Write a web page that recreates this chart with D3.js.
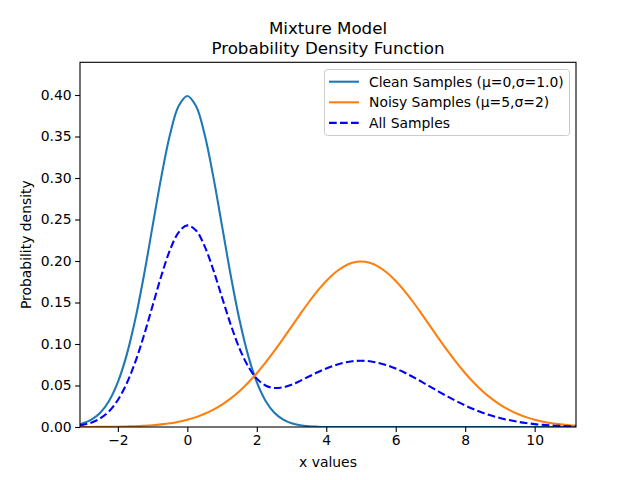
<!DOCTYPE html>
<html>
<head>
<meta charset="utf-8">
<script src="https://cdn.jsdelivr.net/npm/d3@7"></script>
<style>
  body { margin: 0; background: #fff; }
  text { font-family: "DejaVu Sans", sans-serif; fill: #000; }
</style>
</head>
<body>
<div id="chart"></div>
<script>
// x positions the curves were read at
const xValues = [-3.1, -3, -2.75, -2.5, -2.25, -2, -1.75, -1.5, -1.25, -1, -0.75, -0.5, -0.25,
  0, 0.25, 0.5, 0.75, 1, 1.25, 1.5, 1.75, 2, 2.25, 2.5, 2.75, 3, 3.25, 3.5, 3.75,
  4, 4.25, 4.5, 4.75, 5, 5.25, 5.5, 5.75, 6, 6.25, 6.5, 6.75, 7, 7.25, 7.5, 7.75,
  8, 8.25, 8.5, 8.75, 9, 9.25, 9.5, 9.75, 10, 10.25, 10.5, 10.75, 11, 11.2];

const cleanValues = [0.0033, 0.0044, 0.0091, 0.0175, 0.0317, 0.0540, 0.0863, 0.1295, 0.1826, 0.2420, 0.3011, 0.3521, 0.3867,
  0.3989, 0.3867, 0.3521, 0.3011, 0.2420, 0.1826, 0.1295, 0.0863, 0.0540, 0.0317, 0.0175, 0.0091, 0.0044, 0.0020, 0.0009, 0.0004,
  0.0001, 0, 0, 0, 0, 0, 0, 0, 0, 0, 0, 0, 0, 0, 0, 0,
  0, 0, 0, 0, 0, 0, 0, 0, 0, 0, 0, 0, 0, 0];

const noisyValues = [0.0001, 0.0001, 0.0001, 0.0002, 0.0003, 0.0004, 0.0007, 0.0010, 0.0015, 0.0022, 0.0032, 0.0045, 0.0064,
  0.0088, 0.0119, 0.0159, 0.0209, 0.0270, 0.0344, 0.0431, 0.0533, 0.0648, 0.0775, 0.0913, 0.1059, 0.1210, 0.1360, 0.1506, 0.1641,
  0.1760, 0.1859, 0.1933, 0.1979, 0.1995, 0.1979, 0.1933, 0.1859, 0.1760, 0.1641, 0.1506, 0.1360, 0.1210, 0.1059, 0.0913, 0.0775,
  0.0648, 0.0533, 0.0431, 0.0344, 0.0270, 0.0209, 0.0159, 0.0119, 0.0088, 0.0064, 0.0045, 0.0032, 0.0022, 0.0016];

const allValues = [0.0020, 0.0027, 0.0055, 0.0106, 0.0191, 0.0326, 0.0521, 0.0781, 0.1102, 0.1461, 0.1819, 0.2131, 0.2346,
  0.2429, 0.2368, 0.2176, 0.1890, 0.1560, 0.1233, 0.0949, 0.0731, 0.0583, 0.0500, 0.0470, 0.0478, 0.0510, 0.0556, 0.0608, 0.0659,
  0.0705, 0.0744, 0.0773, 0.0792, 0.0798, 0.0792, 0.0773, 0.0744, 0.0704, 0.0656, 0.0602, 0.0544, 0.0484, 0.0424, 0.0365, 0.0310,
  0.0259, 0.0213, 0.0172, 0.0138, 0.0108, 0.0084, 0.0064, 0.0048, 0.0035, 0.0026, 0.0018, 0.0013, 0.0009, 0.0006];

const xTicks = [-2, 0, 2, 4, 6, 8, 10];
const yTicks = [0, 0.05, 0.10, 0.15, 0.20, 0.25, 0.30, 0.35, 0.40];

const seriesNames = ["Clean Samples (μ=0,σ=1.0)", "Noisy Samples (μ=5,σ=2)", "All Samples"];

const w = 640;
const h = 480;
const pLeft = 80, pRight = 576, pTop = 62.3, pBottom = 427;

const series = [
  { name: seriesNames[0], values: cleanValues, color: "#1f77b4", dash: null },
  { name: seriesNames[1], values: noisyValues, color: "#ff7f0e", dash: null },
  { name: seriesNames[2], values: allValues, color: "#0000ff", dash: "7.7,3.3" }
];

const xScale = d3.scaleLinear().domain([-3.09, 11.19]).range([pLeft, pRight]);
const yScale = d3.scaleLinear().domain([0, 0.4394]).range([pBottom, pTop]);

const svg = d3.select("#chart")
  .append("svg")
  .attr("width", w)
  .attr("height", h);

svg.append("defs").append("clipPath")
  .attr("id", "plot-clip")
  .append("rect")
  .attr("x", pLeft)
  .attr("y", pTop)
  .attr("width", pRight - pLeft)
  .attr("height", pBottom - pTop);

// lines
const line = d3.line()
  .x((d, i) => xScale(xValues[i]))
  .y((d) => yScale(d))
  .curve(d3.curveCatmullRom.alpha(0.5));

svg.append("g")
  .attr("clip-path", "url(#plot-clip)")
  .selectAll("path")
  .data(series)
  .enter()
  .append("path")
  .attr("d", (d) => line(d.values))
  .attr("fill", "none")
  .attr("stroke", (d) => d.color)
  .attr("stroke-width", 2.08)
  .attr("stroke-dasharray", (d) => d.dash);

// axes
const xAxis = d3.axisBottom(xScale)
  .tickValues(xTicks)
  .tickSize(4.9)
  .tickPadding(3.5)
  .tickFormat((d) => d < 0 ? "\u2212" + Math.abs(d) : d);

const yAxis = d3.axisLeft(yScale)
  .tickValues(yTicks)
  .tickSize(4.9)
  .tickPadding(3.5)
  .tickFormat(d3.format(".2f"));

const gx = svg.append("g")
  .attr("transform", `translate(0, ${pBottom})`)
  .call(xAxis);

const gy = svg.append("g")
  .attr("transform", `translate(${pLeft}, 0)`)
  .call(yAxis);

[gx, gy].forEach((g) => {
  g.select(".domain").remove();
  g.selectAll(".tick line").attr("stroke", "#000").attr("stroke-width", 1.1);
  g.selectAll(".tick text")
    .attr("font-size", "13.9px")
    .attr("font-family", "DejaVu Sans, sans-serif")
    .attr("fill", "#000");
});

// frame
svg.append("rect")
  .attr("x", pLeft)
  .attr("y", pTop)
  .attr("width", pRight - pLeft)
  .attr("height", pBottom - pTop)
  .attr("fill", "none")
  .attr("stroke", "#000")
  .attr("stroke-width", 1.1);

// title
svg.append("text")
  .attr("x", (pLeft + pRight) / 2)
  .attr("y", 34)
  .attr("text-anchor", "middle")
  .attr("font-size", "16.7px")
  .text("Mixture Model");

svg.append("text")
  .attr("x", (pLeft + pRight) / 2)
  .attr("y", 54)
  .attr("text-anchor", "middle")
  .attr("font-size", "16.7px")
  .text("Probability Density Function");

// axis labels
svg.append("text")
  .attr("x", (pLeft + pRight) / 2)
  .attr("y", 467)
  .attr("text-anchor", "middle")
  .attr("font-size", "13.9px")
  .text("x values");

svg.append("text")
  .attr("transform", `translate(31, ${(pTop + pBottom) / 2}) rotate(-90)`)
  .attr("text-anchor", "middle")
  .attr("font-size", "13.9px")
  .text("Probability density");

// legend
const legend = svg.append("g").attr("id", "legend");

legend.append("rect")
  .attr("x", 324.5)
  .attr("y", 69.5)
  .attr("width", 245)
  .attr("height", 66)
  .attr("rx", 3)
  .attr("fill", "#fff")
  .attr("fill-opacity", 0.8)
  .attr("stroke", "#cccccc");

const items = legend.selectAll(".legend-label")
  .data(series)
  .enter()
  .append("g")
  .attr("class", "legend-label")
  .attr("transform", (d, i) => `translate(0, ${81.7 + i * 20.6})`);

items.append("line")
  .attr("x1", 329)
  .attr("x2", 359)
  .attr("stroke", (d) => d.color)
  .attr("stroke-width", 2.08)
  .attr("stroke-dasharray", (d) => d.dash);

items.append("text")
  .attr("x", 369)
  .attr("y", 5)
  .attr("font-size", "13.9px")
  .text((d) => d.name);
</script>
</body>
</html>
